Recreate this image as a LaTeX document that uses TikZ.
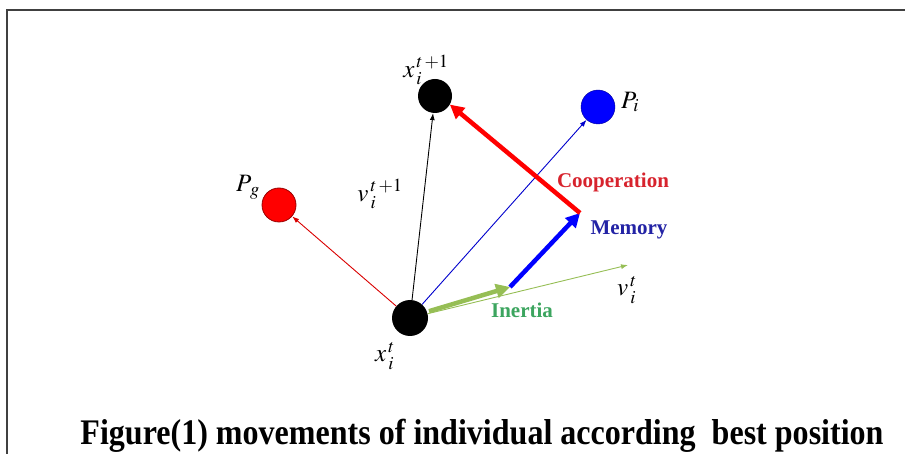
\documentclass[tikz,border=0pt]{standalone}
\usepackage{mathptmx}
\usepackage{fontspec}
\setmainfont{Liberation Serif}
\usetikzlibrary{arrows.meta}
\definecolor{coopred}{RGB}{215,35,45}
\definecolor{memblue}{RGB}{35,35,165}
\definecolor{inertgreen}{RGB}{60,165,95}
\definecolor{arrowgreen}{RGB}{150,190,85}
\begin{document}
\begin{tikzpicture}
[
    x=1pt, y=-1pt,
    particle/.style={circle, minimum size=34pt, inner sep=0pt},
    vlabel/.style={font=\fontsize{25}{27}\selectfont, inner sep=0pt},
    force/.style={font=\fontsize{21}{23}\selectfont\bfseries, inner sep=0pt},
    thin vec/.style={line width=0.9pt, -{Latex[length=7pt, width=5pt]}},
    thick vec/.style={line width=4.5pt, -{Triangle[length=14pt, width=14pt]}}
]
    \useasboundingbox (0,0) rectangle (905,454);
    \draw [line width=1.2pt, black!75] (905,10) -- (7,10) -- (7,454);

    % particles
    \node [particle, fill=black, minimum size=36pt] (xcur) at (410,318) {};
    \node [particle, fill=black] (xnext) at (435,96) {};
    \node [particle, fill=blue, draw=blue!60!black] (pbest) at (598,107) {};
    \node [particle, fill=red, draw=red!60!black, line width=0.8pt] (gbest) at (279,205) {};
    \coordinate (vend) at (628,265);
    \coordinate (inertend) at (510,287);
    \coordinate (memend) at (580,213);

    % labels
    \node [vlabel] (lxnext) at (426,70) {$x_{\,i}^{\,t\,+1}$};
    \node [vlabel] (lpbest) at (630,102) {$P_{i}$};
    \node [vlabel] (lgbest) at (248,187) {$P_{\,g}$};
    \node [vlabel] (lvnext) at (380,194) {$v_{\,i}^{\,t\,+1}$};
    \node [vlabel] (lvcur) at (627,290) {$v_{\,i}^{\,t}$};
    \node [vlabel] (lxcur) at (385,356) {$x_{\,i}^{\,t}$};

    % thin vectors
    \draw [thin vec] (xcur) -- (xnext);
    \draw [thin vec, blue!80!black] (xcur) -- (pbest);
    \draw [thin vec, red!85!black] (xcur) -- (gbest);
    \draw [thin vec, arrowgreen] (xcur) -- (vend);

    % velocity components
    \draw [thick vec, arrowgreen, shorten <=2pt] (xcur.20) -- (inertend);
    \draw [thick vec, blue] (inertend) -- (memend);
    \draw [thick vec, red] (memend) -- (xnext.-30);

    \node [force, coopred] (coop) at (613,182) {Cooperation};
    \node [force, memblue] (mem) at (629,230) {Memory};
    \node [force, inertgreen] (inert) at (522,310) {Inertia};

    % caption
    \node [inner sep=0pt, anchor=base, font=\fontsize{36}{38}\selectfont\bfseries] (caption) at (482,444)
        {\scalebox{0.89}[1]{Figure(1) movements of individual according\ \ best position}};
\end{tikzpicture}
\end{document}
